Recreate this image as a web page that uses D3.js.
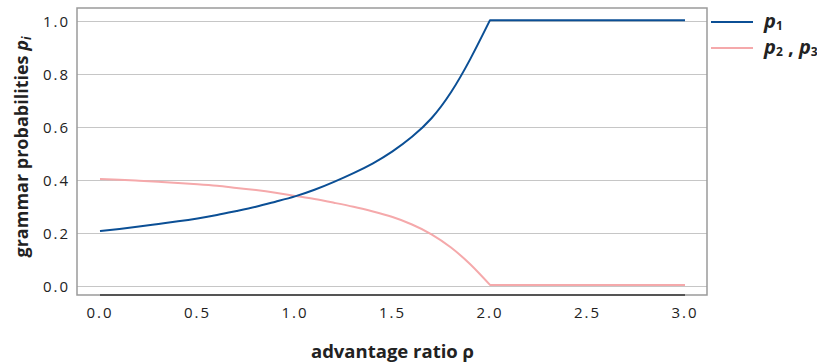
<!DOCTYPE html>
<html>
<head>
<meta charset="utf-8">
<script src="https://cdn.jsdelivr.net/npm/d3@7"></script>
<style>
  body { margin: 0; background: #fff; }
  svg { display: block; font-family: "Open Sans", sans-serif; }
</style>
</head>
<body>
<div id="chart"></div>
<script>
// Values
const rho = [0.0, 0.1, 0.2, 0.3, 0.4, 0.5, 0.6, 0.7, 0.8, 0.9, 1.0,
             1.1, 1.2, 1.3, 1.4, 1.5, 1.6, 1.7, 1.8, 1.9, 2.0, 3.0];
const p1 = [0.209, 0.217, 0.226, 0.236, 0.246, 0.257, 0.270, 0.285, 0.301, 0.320, 0.340,
            0.365, 0.395, 0.428, 0.465, 0.510, 0.565, 0.635, 0.733, 0.860, 1.005, 1.005];
const p23 = [0.406, 0.403, 0.399, 0.395, 0.391, 0.386, 0.380, 0.372, 0.364, 0.354, 0.342,
             0.330, 0.316, 0.301, 0.283, 0.262, 0.234, 0.197, 0.147, 0.083, 0.006, 0.006];
const xTicks = [0, 0.5, 1, 1.5, 2, 2.5, 3];
const yTicks = [0, 0.2, 0.4, 0.6, 0.8, 1.0];

var width = 817, height = 364;
var panel = { left: 77, right: 707, top: 8, bottom: 295 };
var kink = rho.indexOf(2.0);

var svg = d3.select("#chart")
    .append("svg")
    .attr("width", width)
    .attr("height", height);

var x = d3.scaleLinear().domain([0, 3]).range([100, 685]);
var y = d3.scaleLinear().domain([0, 1]).range([286.5, 21.5]);

// gridlines
svg.selectAll(".grid")
    .data(yTicks)
    .enter()
    .append("line")
    .attr("x1", panel.left)
    .attr("x2", panel.right)
    .attr("y1", d => y(d))
    .attr("y2", d => y(d))
    .attr("stroke", "#c6c6c6")
    .attr("stroke-width", 1.2);

// panel border
svg.append("rect")
    .attr("x", panel.left)
    .attr("y", panel.top)
    .attr("width", panel.right - panel.left)
    .attr("height", panel.bottom - panel.top)
    .attr("fill", "none")
    .attr("stroke", "#9a9a9a")
    .attr("stroke-width", 1.5);

// dark axis segment across data range
svg.append("line")
    .attr("x1", x(0))
    .attr("x2", x(3))
    .attr("y1", panel.bottom)
    .attr("y2", panel.bottom)
    .attr("stroke", "#555")
    .attr("stroke-width", 2);

// smooth part up to rho = 2, then a straight piece (sharp corner at 2)
var drawSeries = function (vals, color) {
    var pts = rho.map((r, i) => [x(r), y(vals[i])]);
    var smooth = d3.line().curve(d3.curveNatural)(pts.slice(0, kink + 1));
    var flat = d3.line()(pts.slice(kink));
    svg.append("path")
        .attr("d", smooth + flat.replace(/^M/, "L"))
        .attr("fill", "none")
        .attr("stroke", color)
        .attr("stroke-width", 2)
        .attr("stroke-linejoin", "round");
};
drawSeries(p23, "#f5a9ab");
drawSeries(p1, "#0b4f95");

// tick labels
svg.selectAll(".xlab")
    .data(xTicks)
    .enter()
    .append("text")
    .attr("x", d => x(d))
    .attr("y", 318)
    .attr("text-anchor", "middle")
    .attr("font-size", "15px")
    .attr("letter-spacing", "2px")
    .attr("fill", "#222")
    .text(d => d.toFixed(1));

svg.selectAll(".ylab")
    .data(yTicks)
    .enter()
    .append("text")
    .attr("x", 70)
    .attr("y", d => y(d) + 5.5)
    .attr("text-anchor", "end")
    .attr("font-size", "15px")
    .attr("letter-spacing", "2px")
    .attr("fill", "#222")
    .text(d => d.toFixed(1));

// axis titles
svg.append("text")
    .attr("x", x(1.5))
    .attr("y", 358)
    .attr("text-anchor", "middle")
    .attr("font-size", "18.5px")
    .attr("font-weight", "bold")
    .attr("fill", "#222")
    .text("advantage ratio ρ");

var yt = svg.append("text")
    .attr("transform", "translate(28,147) rotate(-90)")
    .attr("text-anchor", "middle")
    .attr("font-size", "18px")
    .attr("font-weight", "bold")
    .attr("fill", "#222");
yt.append("tspan").text("grammar probabilities ");
yt.append("tspan").attr("font-style", "italic").text("p");
yt.append("tspan").attr("font-style", "italic").attr("font-size", "12px").attr("dy", 3).text("i");

// legend
var legend = [
    { color: "#0b4f95", parts: [["p", "1"]] },
    { color: "#f5a9ab", parts: [["p", "2"], ["p", "3"]] }
];
legend.forEach(function (d, i) {
    var ly = 22 + i * 26;
    svg.append("line")
        .attr("x1", 711).attr("x2", 753)
        .attr("y1", ly).attr("y2", ly)
        .attr("stroke", d.color)
        .attr("stroke-width", 2);
    var t = svg.append("text")
        .attr("x", 764)
        .attr("y", ly + 6)
        .attr("font-size", "20px")
        .attr("font-weight", "bold")
        .attr("font-style", "italic")
        .attr("fill", "#222");
    d.parts.forEach(function (p, j) {
        if (j > 0) t.append("tspan").attr("dy", -2).attr("font-style", "normal").text(" , ");
        t.append("tspan").text(p[0]);
        t.append("tspan").attr("font-size", "12px").attr("font-style", "normal").attr("dy", 2).text(p[1]);
    });
});
</script>
</body>
</html>
